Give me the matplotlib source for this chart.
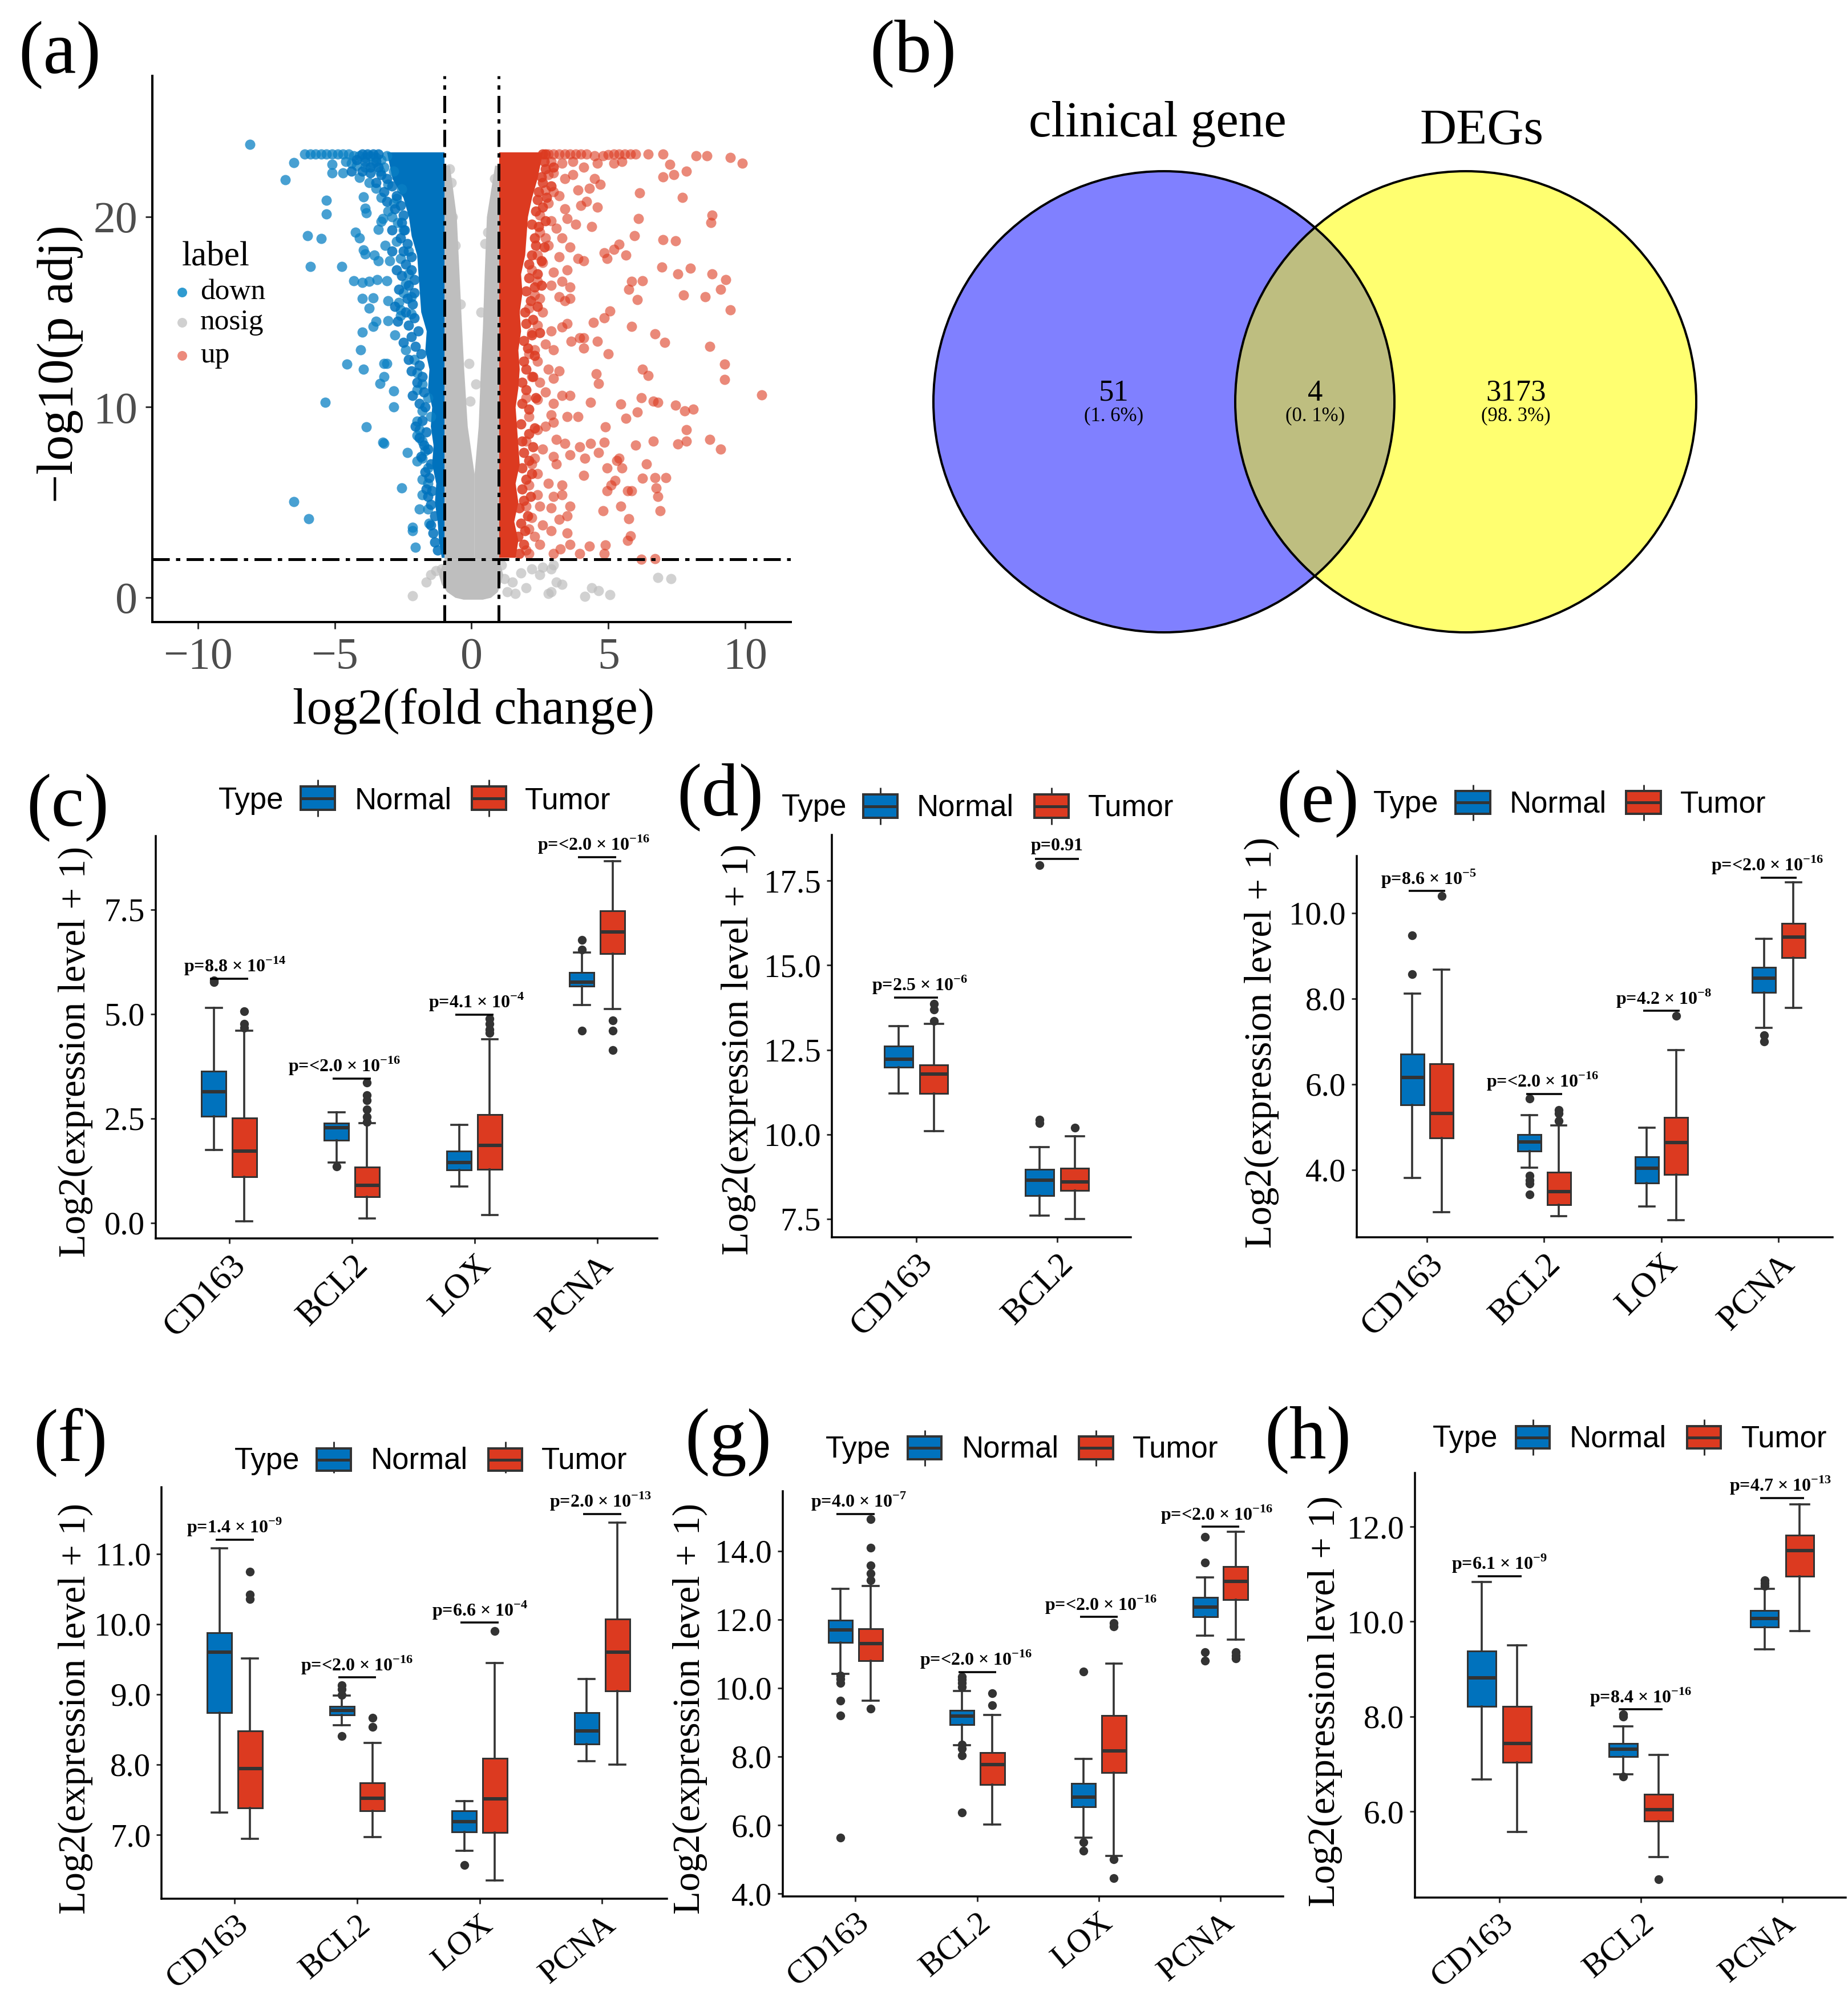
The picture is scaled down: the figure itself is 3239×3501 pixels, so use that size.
import matplotlib
matplotlib.use("Agg")
import matplotlib.pyplot as plt
from matplotlib.patches import Circle, Rectangle

W, H = 3239, 3501
PT = 0.72  # points per output pixel at dpi 100

plt.rcParams["font.family"] = ["Liberation Serif", "DejaVu Serif"]
plt.rcParams["mathtext.fontset"] = "custom"
plt.rcParams["mathtext.rm"] = "Liberation Serif"
plt.rcParams["mathtext.bf"] = "Liberation Serif:bold"

BLUE = "#0072BD"
RED = "#DC3A20"
GREY = "#BEBEBE"
DARK = "#333333"

# ---- panel a: volcano, core = solid band
down_points = [
    (-8.1, 23.8), (-6.5, 22.85), (-6.8, 21.95), (-5.3, 20.85), (-5.3, 20.15), (-6.0, 19.0), (-5.5, 18.85),
    (-5.9, 17.4), (-4.75, 17.4), (-4.25, 19.2), (-4.1, 18.9), (-3.9, 18.05), (-3.95, 18.25), (-3.55, 18.0),
    (-3.4, 17.7), (-3.0, 17.7), (-3.15, 18.5), (-2.75, 18.7), (-3.4, 19.35), (-3.3, 19.75), (-3.95, 21.05),
    (-3.9, 20.45), (-3.85, 20.2), (-3.05, 20.3), (-3.25, 19.9), (-2.85, 20.7), (-5.1, 22.75), (-5.1, 22.3),
    (-4.7, 22.3), (-4.4, 22.8), (-4.1, 22.05), (-3.75, 21.8), (-3.35, 22.4), (-3.05, 21.7), (-2.85, 22.4),
    (-2.55, 21.45), (-2.75, 20.95), (-4.3, 16.65), (-4.0, 16.55), (-3.75, 16.6), (-3.45, 16.7), (-3.1, 16.65),
    (-4.0, 15.7), (-3.6, 15.75), (-3.05, 15.6), (-2.65, 15.5), (-3.75, 15.2), (-2.4, 16.5), (-2.5, 16.0),
    (-2.6, 15.1), (-2.3, 17.0), (-4.0, 13.95), (-3.6, 14.25), (-3.5, 14.5), (-3.05, 14.55), (-2.8, 13.8),
    (-2.6, 14.8), (-2.2, 14.9), (-4.05, 13.0), (-4.55, 12.25), (-3.95, 12.0), (-3.2, 12.3), (-3.1, 12.3),
    (-3.2, 11.6), (-3.35, 11.25), (-2.85, 10.85), (-5.35, 10.25), (-2.85, 10.0), (-3.85, 8.95), (-3.25, 8.15),
    (-3.2, 8.1), (-2.35, 7.6), (-2.0, 7.15), (-2.55, 5.75), (-6.5, 5.05), (-5.95, 4.15), (-2.15, 3.7),
    (-2.15, 3.5), (-2.05, 2.65), (-1.8, 5.4), (-1.9, 4.65), (-1.6, 4.65), (-1.55, 3.9), (-2.0, 9.25),
    (-1.9, 8.8), (-2.0, 8.5), (-1.8, 8.2), (-1.7, 7.7), (-1.8, 7.3), (-1.6, 6.8), (-1.8, 6.2), (-1.6, 6.0),
    (-2.4, 13.0), (-2.1, 12.5), (-2.0, 11.8), (-1.8, 11.2), (-2.0, 10.9), (-1.6, 10.5), (-1.8, 9.8), (-1.5, 9.5),
    (-2.3, 18.2), (-2.5, 19.3), (-2.7, 19.7), (-2.9, 20.0), (-3.3, 21.0), (-3.5, 21.5), (-2.6, 17.8), (-2.2, 15.8),
    (-6.1, 23.3), (-5.9, 23.3), (-5.7, 23.3), (-5.5, 23.3), (-5.3, 23.3), (-5.1, 23.3), (-4.9, 23.3), (-4.7, 23.3),
    (-4.5, 23.3), (-4.3, 23.2), (-4.1, 23.2), (-3.9, 23.1), (-3.7, 23.2), (-3.5, 23.1), (-3.3, 23.0), (-3.1, 23.2),
    (-4.6, 22.9), (-4.2, 22.7), (-3.9, 22.6), (-3.6, 22.8), (-3.2, 22.6),
]
down_edge_points = [
    (-1.25, 2.5), (-1.35, 2.9), (-1.4, 3.4), (-1.5, 3.8), (-1.35, 4.3), (-1.5, 4.9), (-1.6, 5.3), (-1.45, 5.6),
    (-1.65, 5.7), (-1.55, 6.3), (-1.7, 6.6), (-1.5, 7.0), (-1.85, 7.4), (-1.6, 7.8), (-1.75, 8.0), (-1.9, 8.4),
    (-1.65, 8.7), (-2.05, 9.0), (-1.8, 9.3), (-1.7, 10.0), (-1.9, 10.2), (-2.15, 10.6), (-1.75, 10.8), (-2.0, 11.3),
    (-1.8, 11.6), (-2.2, 11.9), (-1.9, 12.2), (-2.3, 12.5), (-1.85, 12.8), (-2.05, 13.2), (-2.5, 13.4), (-2.2, 13.7),
    (-1.95, 14.0), (-2.3, 14.3), (-2.7, 14.5), (-2.1, 14.7), (-2.4, 15.0), (-2.15, 15.4), (-2.8, 15.3), (-2.35, 15.7),
    (-2.1, 16.0), (-2.65, 16.2), (-2.3, 16.4), (-2.1, 16.7), (-2.55, 16.9), (-2.2, 17.2), (-2.75, 17.2), (-2.4, 17.5),
    (-2.2, 17.9), (-2.5, 18.2), (-2.9, 18.2), (-2.35, 18.6), (-2.6, 18.9), (-2.45, 19.3), (-2.9, 19.3), (-2.55, 19.7),
    (-2.5, 20.1), (-2.8, 20.4), (-2.6, 20.6), (-3.1, 20.8), (-2.75, 21.1), (-3.2, 21.3), (-2.9, 21.6), (-3.5, 21.8),
    (-3.1, 22.0), (-3.3, 22.2), (-3.7, 22.3), (-3.4, 22.6), (-4.0, 22.4), (-3.7, 22.6), (-3.5, 22.9), (-3.9, 22.9),
    (-4.2, 23.0), (-3.4, 23.3), (-3.6, 23.3), (-3.8, 23.3), (-4.0, 23.3), (-4.4, 22.4),
]
up_points = [
    (6.45, 23.3), (7.0, 23.3), (8.2, 23.2), (8.6, 23.2), (9.45, 23.1), (9.9, 22.8), (7.25, 22.75), (7.85, 22.4),
    (7.4, 22.2), (7.0, 22.1), (6.15, 21.25), (7.7, 21.0), (8.8, 20.1), (8.75, 19.7), (6.1, 19.9), (5.95, 19.0),
    (7.0, 18.8), (7.45, 18.75), (5.4, 18.55), (5.2, 18.3), (4.85, 18.1), (5.65, 18.0), (4.95, 17.8), (6.95, 17.35),
    (8.0, 17.3), (7.55, 17.0), (8.8, 17.0), (9.3, 16.7), (9.1, 16.2), (6.25, 16.65), (5.85, 16.6), (5.75, 16.2),
    (7.75, 15.9), (8.55, 15.8), (6.05, 15.65), (9.45, 15.1), (5.05, 15.05), (4.85, 14.7), (4.45, 14.45), (5.85, 14.25),
    (6.7, 13.85), (7.05, 13.4), (8.7, 13.2), (5.0, 12.8), (4.6, 13.45), (4.1, 13.65), (3.95, 13.65), (4.1, 13.1),
    (3.65, 13.45), (9.25, 12.25), (6.25, 12.0), (6.45, 11.65), (4.55, 11.75), (4.65, 11.25), (9.25, 11.45),
    (10.6, 10.65), (6.2, 10.5), (6.65, 10.3), (6.8, 10.25), (7.45, 10.1), (7.8, 9.8), (8.1, 9.9), (5.45, 10.15),
    (4.35, 10.25), (5.65, 9.4), (6.05, 9.75), (4.9, 8.95), (3.9, 9.5), (7.85, 8.8), (8.7, 8.3), (9.1, 7.8),
    (7.85, 8.2), (7.55, 8.05), (6.65, 8.2), (6.0, 8.0), (4.85, 8.15), (4.35, 8.1), (3.95, 7.9), (4.65, 7.6),
    (5.4, 7.3), (5.3, 7.2), (6.4, 7.0), (6.25, 6.25), (6.7, 6.3), (7.1, 6.3), (4.95, 6.8), (5.5, 6.8), (4.15, 7.3),
    (4.1, 6.4), (5.25, 6.15), (5.1, 5.9), (4.95, 5.6), (5.7, 5.6), (5.85, 5.6), (6.75, 5.75), (6.8, 5.3), (6.9, 4.55),
    (5.45, 4.8), (4.8, 4.55), (5.75, 4.15), (3.5, 3.4), (5.8, 3.25), (5.7, 3.0), (4.9, 2.75), (4.85, 2.3), (4.3, 2.7),
    (3.6, 2.8), (6.2, 2.0), (6.7, 2.05), (3.95, 2.3), (3.25, 2.55), (3.0, 2.3),
    (2.8, 23.3), (3.0, 23.3), (3.2, 23.3), (3.4, 23.3), (3.6, 23.3), (3.8, 23.3), (4.0, 23.3), (4.2, 23.3),
    (4.5, 23.2), (4.8, 23.2), (5.0, 23.25), (5.2, 23.3), (5.4, 23.3), (5.6, 23.3), (5.8, 23.3), (6.0, 23.3),
    (2.9, 22.9), (3.3, 22.8), (3.7, 22.9), (4.6, 22.8), (5.2, 22.8), (5.5, 22.9), (3.0, 22.3), (3.4, 22.0), (3.7, 22.2),
    (4.1, 22.6), (4.5, 22.0), (4.7, 21.7), (3.0, 21.3), (3.2, 21.1), (3.9, 21.4), (4.3, 21.5), (2.8, 20.7), (3.4, 20.4),
    (4.0, 20.6), (4.2, 20.8), (4.6, 20.5), (2.9, 19.8), (3.5, 19.9), (3.1, 19.4), (3.8, 19.6), (4.4, 19.5), (2.7, 18.9),
    (2.5, 19.2), (3.3, 18.9), (2.8, 18.5), (3.6, 18.4), (4.1, 17.7), (3.9, 17.8), (3.2, 17.9), (3.5, 17.2), (2.6, 17.6),
    (3.0, 17.1), (2.4, 16.6), (2.9, 16.4), (3.3, 16.6), (3.6, 16.3), (2.5, 15.7), (3.2, 15.8), (3.4, 15.6), (3.6, 15.7),
    (2.6, 15.0), (3.5, 14.4), (3.3, 14.2), (2.9, 14.0), (2.4, 14.3), (3.0, 13.0), (2.7, 13.3), (2.3, 13.0), (2.4, 12.4),
    (2.8, 12.0), (3.2, 11.9), (3.0, 11.5), (2.5, 11.3), (2.7, 10.8), (3.3, 10.6), (3.6, 10.6), (2.4, 10.4), (3.0, 10.2),
    (2.9, 9.6), (3.0, 9.2), (3.5, 9.5), (2.7, 9.0), (2.4, 8.8), (3.1, 8.3), (3.4, 8.1), (2.6, 7.8), (3.6, 7.5), (2.3, 7.3),
    (3.0, 7.4), (3.1, 7.0), (2.4, 6.5), (2.8, 6.0), (3.3, 5.9), (2.4, 5.4), (3.0, 5.3), (3.3, 5.4), (2.5, 4.8), (2.9, 4.7),
    (3.6, 4.8), (2.2, 4.2), (3.2, 4.1), (3.5, 4.3), (2.6, 3.8), (2.9, 3.5), (2.3, 3.2), (2.5, 2.8), (2.1, 2.3), (2.0, 2.5),
    (2.1, 3.6), (2.0, 4.8), (2.1, 5.9), (2.2, 7.0), (2.0, 8.2), (2.1, 9.5), (2.0, 10.5), (2.2, 11.6), (2.1, 12.8), (2.2, 13.9),
    (2.1, 15.2), (2.3, 15.9), (2.2, 17.2), (2.4, 18.0), (2.5, 20.1), (2.7, 21.4), (2.8, 22.2),
]
up_edge_points = [
    (1.75, 2.3), (1.9, 2.8), (1.7, 3.2), (1.95, 3.5), (1.8, 3.9), (2.05, 4.3), (1.75, 4.7), (1.9, 5.1), (2.15, 5.3),
    (1.85, 5.7), (2.0, 6.2), (2.2, 6.5), (1.85, 6.8), (2.1, 7.2), (1.9, 7.6), (2.25, 7.9), (1.85, 8.2), (2.1, 8.6),
    (2.3, 8.9), (1.8, 9.1), (2.1, 9.9), (1.85, 10.2), (2.35, 10.5), (2.0, 10.9), (1.85, 11.3), (2.25, 11.6), (2.0, 12.0),
    (1.9, 12.4), (2.3, 12.7), (2.05, 13.1), (1.9, 13.5), (2.2, 13.8), (2.5, 13.9), (2.0, 14.4), (2.25, 14.6), (1.95, 15.0),
    (2.4, 15.3), (2.15, 15.6), (2.0, 16.1), (2.3, 16.3), (2.55, 16.4), (2.1, 16.8), (2.4, 17.0), (2.1, 17.5), (2.55, 17.7),
    (2.2, 18.0), (2.35, 18.5), (2.65, 18.4), (2.3, 18.9), (2.45, 19.5), (2.2, 19.6), (2.7, 19.8), (2.35, 20.3), (2.6, 20.5),
    (2.4, 20.9), (2.75, 21.0), (2.45, 21.3), (2.6, 21.8), (2.9, 21.6), (2.55, 22.1), (2.7, 22.5), (3.0, 22.6), (2.65, 22.9),
    (2.6, 23.3), (2.7, 23.3),
]
nosig_points = [
    (-2.15, 0.1), (-1.65, 0.8), (-1.5, 1.2), (-1.3, 1.4), (-1.1, 1.5), (1.2, 1.0), (1.5, 0.8), (1.8, 1.3), (2.0, 0.5),
    (2.2, 1.5), (2.5, 1.2), (2.6, 1.6), (2.9, 1.5), (3.0, 1.7), (3.1, 0.8), (2.9, 0.3), (3.3, 0.7), (2.8, 0.2), (4.15, 0.05),
    (4.4, 0.5), (4.65, 0.35), (5.05, 0.15), (6.8, 1.05), (7.3, 1.0), (1.3, 0.3), (1.6, 0.2), (1.1, 1.7), (-0.1, 12.3),
    (-0.8, 22.5), (-0.75, 21.8), (0.85, 22.0), (0.9, 21.4), (-0.4, 15.4), (0.35, 15.0), (-0.05, 10.3), (0.15, 11.2),
    (-0.6, 18.5), (0.5, 18.6), (-0.7, 20.0), (0.6, 19.2),
]
core_y = [2.1, 3, 4, 5, 6, 7, 8, 9, 10, 11, 12, 13, 14, 15, 16, 17, 18, 19, 20, 21, 22, 23.4]
down_core_x = [-1.1, -1.2, -1.25, -1.35, -1.3, -1.45, -1.4, -1.5, -1.45, -1.6, -1.55, -1.7, -1.65, -1.85, -1.9,
               -1.95, -2.0, -2.2, -2.3, -2.5, -2.9, -3.1]
up_core_x = [1.6, 1.7, 1.55, 1.7, 1.6, 1.75, 1.7, 1.65, 1.6, 1.7, 1.75, 1.7, 1.8, 1.75, 1.85, 1.8, 1.95, 2.0, 2.05,
             2.2, 2.4, 2.6]
nosig_y = [2, 6.5, 9, 12, 14, 17, 20, 22.7]
nosig_left_x = [0.1, 0.1, -0.15, -0.28, -0.35, -0.45, -0.55, -0.8]
nosig_right_x = [0.1, 0.1, 0.25, 0.33, 0.4, 0.47, 0.55, 0.85]
blob_y = [-0.1, 0, 0.3, 0.7, 1.2, 2]
blob_left_x = [-0.3, -0.6, -0.9, -1.1, -1.2, -1]
blob_right_x = [0.4, 0.7, 0.95, 1.05, 1.15, 1]
volcano_xticks = [-10, -5, 0, 5, 10]
volcano_yticks = [0, 10, 20]
fold_cutoffs = [-1, 1]
p_cutoff = 2

# ---- panel b
venn_counts = ["51", "4", "3173"]
venn_shares = ["(1. 6%)", "(0. 1%)", "(98. 3%)"]
venn_names = ["clinical gene", "DEGs"]

# ---- box panels: (whisker low, q1, median, q3, whisker high) per gene
c_genes = ["CD163", "BCL2", "LOX", "PCNA"]
c_yticks = [0.0, 2.5, 5.0, 7.5]
c_normal = [(1.75, 2.55, 3.14, 3.63, 5.15), (1.44, 1.98, 2.28, 2.39, 2.65), (0.87, 1.26, 1.44, 1.71, 2.34), (5.22, 5.67, 5.76, 6.0, 6.47)]
c_tumor = [(0.04, 1.1, 1.72, 2.51, 4.6), (0.1, 0.62, 0.9, 1.33, 2.39), (0.19, 1.28, 1.85, 2.59, 4.39), (5.12, 6.45, 6.97, 7.47, 8.66)]
c_normal_out = [[5.76, 5.8], [1.35], [], [4.6, 6.54, 6.77]]
c_tumor_out = [[5.07, 4.76, 4.67], [2.41, 2.54, 2.72, 2.93, 3.06, 3.36], [4.54, 4.63, 4.76, 4.89], [4.84, 4.6, 4.13]]
c_bracket = [5.85, 3.45, 4.98, 8.76]
c_pvals = ["p=8.8 × 10$^{\\mathbf{-14}}$", "p=<2.0 × 10$^{\\mathbf{-16}}$", "p=4.1 × 10$^{\\mathbf{-4}}$", "p=<2.0 × 10$^{\\mathbf{-16}}$"]

d_genes = ["CD163", "BCL2"]
d_yticks = [7.5, 10.0, 12.5, 15.0, 17.5]
d_normal = [(11.21, 11.98, 12.23, 12.61, 13.2), (7.6, 8.19, 8.65, 8.96, 9.63)]
d_tumor = [(10.1, 11.21, 11.79, 12.05, 13.27), (7.5, 8.34, 8.6, 9.0, 9.94)]
d_normal_out = [[], [10.33, 10.44, 17.96]]
d_tumor_out = [[13.36, 13.69, 13.85], [10.2]]
d_bracket = [14.04, 18.15]
d_pvals = ["p=2.5 × 10$^{\\mathbf{-6}}$", "p=0.91"]

e_genes = ["CD163", "BCL2", "LOX", "PCNA"]
e_yticks = [4.0, 6.0, 8.0, 10.0]
e_normal = [(3.81, 5.51, 6.15, 6.7, 8.12), (4.05, 4.44, 4.65, 4.82, 5.27), (3.14, 3.69, 4.03, 4.3, 4.98), (7.31, 8.14, 8.48, 8.73, 9.4)]
e_tumor = [(3.01, 4.74, 5.32, 6.48, 8.67), (2.91, 3.18, 3.49, 3.94, 5.03), (2.82, 3.89, 4.63, 5.22, 6.79), (7.78, 8.95, 9.44, 9.75, 10.71)]
e_normal_out = [[8.57, 9.47], [3.42, 3.68, 3.75, 3.86, 5.66], [], [7.0, 7.14]]
e_tumor_out = [[10.4], [5.14, 5.32, 5.39], [7.59], []]
e_bracket = [10.51, 5.77, 7.71, 10.82]
e_pvals = ["p=8.6 × 10$^{\\mathbf{-5}}$", "p=<2.0 × 10$^{\\mathbf{-16}}$", "p=4.2 × 10$^{\\mathbf{-8}}$", "p=<2.0 × 10$^{\\mathbf{-16}}$"]

f_genes = ["CD163", "BCL2", "LOX", "PCNA"]
f_yticks = [7.0, 8.0, 9.0, 10.0, 11.0]
f_normal = [(7.32, 8.74, 9.6, 9.88, 11.08), (8.56, 8.71, 8.77, 8.83, 8.98), (6.77, 7.04, 7.19, 7.34, 7.48), (8.05, 8.29, 8.48, 8.74, 9.22)]
f_tumor = [(6.94, 7.38, 7.94, 8.48, 9.51), (6.97, 7.34, 7.52, 7.74, 8.31), (6.35, 7.03, 7.51, 8.09, 9.45), (8.0, 9.05, 9.6, 10.07, 11.45)]
f_normal_out = [[], [8.41, 8.99, 9.07, 9.13], [6.57], []]
f_tumor_out = [[10.36, 10.42, 10.75], [8.54, 8.67], [9.9], []]
f_bracket = [11.2, 9.24, 10.02, 11.57]
f_pvals = ["p=1.4 × 10$^{\\mathbf{-9}}$", "p=<2.0 × 10$^{\\mathbf{-16}}$", "p=6.6 × 10$^{\\mathbf{-4}}$", "p=2.0 × 10$^{\\mathbf{-13}}$"]

g_genes = ["CD163", "BCL2", "LOX", "PCNA"]
g_yticks = [4.0, 6.0, 8.0, 10.0, 12.0, 14.0]
g_normal = [(10.42, 11.32, 11.69, 11.97, 12.9), (8.34, 8.93, 9.18, 9.35, 9.92), (5.64, 6.54, 6.81, 7.21, 7.93), (11.52, 12.08, 12.36, 12.64, 13.22)]
g_tumor = [(9.63, 10.8, 11.3, 11.72, 12.97), (6.02, 7.19, 7.77, 8.12, 9.22), (5.1, 7.54, 8.17, 9.2, 10.71), (11.41, 12.58, 13.11, 13.55, 14.56)]
g_normal_out = [[5.64, 9.19, 9.63, 10.14, 10.27, 10.36], [6.37, 8.04, 8.24, 8.35, 10.03, 10.14, 10.25, 10.33], [5.25, 5.5, 10.48], [10.8, 11.05, 13.66, 14.41]]
g_tumor_out = [[9.39, 13.15, 13.34, 13.58, 14.1, 14.92], [9.49, 9.84], [4.45, 5.0, 11.79, 11.89], [10.86, 10.95, 11.04]]
g_bracket = [15.08, 10.46, 12.07, 14.7]
g_pvals = ["p=4.0 × 10$^{\\mathbf{-7}}$", "p=<2.0 × 10$^{\\mathbf{-16}}$", "p=<2.0 × 10$^{\\mathbf{-16}}$", "p=<2.0 × 10$^{\\mathbf{-16}}$"]

h_genes = ["CD163", "BCL2", "PCNA"]
h_yticks = [6.0, 8.0, 10.0, 12.0]
h_normal = [(6.68, 8.21, 8.82, 9.38, 10.83), (6.79, 7.16, 7.31, 7.43, 7.8), (9.42, 9.88, 10.06, 10.23, 10.69)]
h_tumor = [(5.57, 7.04, 7.43, 8.21, 9.5), (5.04, 5.8, 6.04, 6.37, 7.19), (9.8, 10.96, 11.5, 11.82, 12.47)]
h_normal_out = [[], [6.74, 8.0, 8.05], [10.75, 10.81, 10.87]]
h_tumor_out = [[], [4.58], []]
h_bracket = [10.96, 8.15, 12.6]
h_pvals = ["p=6.1 × 10$^{\\mathbf{-9}}$", "p=8.4 × 10$^{\\mathbf{-16}}$", "p=4.7 × 10$^{\\mathbf{-13}}$"]


def pixel_axes(fig, left, top, right, bottom):
    """Axes from output pixel edges."""
    return fig.add_axes([left / W, 1 - bottom / H, (right - left) / W, (bottom - top) / H])


def to_stats(rows, outliers):
    return [
        dict(whislo=r[0], q1=r[1], med=r[2], q3=r[3], whishi=r[4], fliers=o)
        for r, o in zip(rows, outliers)
    ]


def box_panel(fig, rect, ylim, xmax, genes, yticks, normal, tumor, normal_out, tumor_out, bracket, pvals, nudge,
              tick_angle=45, tick_size=44):
    ax = pixel_axes(fig, *rect)
    slots = list(range(1, len(genes) + 1))
    for rows, out, shift, color in [(normal, normal_out, -0.125, BLUE), (tumor, tumor_out, 0.125, RED)]:
        ax.bxp(
            to_stats(rows, out),
            positions=[s + shift for s in slots],
            widths=0.2,
            capwidths=0.13,
            patch_artist=True,
            manage_ticks=False,
            boxprops=dict(facecolor=color, edgecolor=DARK, linewidth=3 * PT),
            medianprops=dict(color=DARK, linewidth=6 * PT, solid_capstyle="butt"),
            whiskerprops=dict(color=DARK, linewidth=3.6 * PT),
            capprops=dict(color=DARK, linewidth=3.6 * PT),
            flierprops=dict(marker="o", markerfacecolor=DARK, markeredgecolor=DARK, markersize=14 * PT),
        )
    for s, y, label, dx in zip(slots, bracket, pvals, nudge):
        ax.plot([s - 0.155, s + 0.155], [y, y], color="black", lw=3.5 * PT, solid_capstyle="butt")
        ax.annotate(label, xy=(s, y), xytext=(dx * PT, 22 * PT), textcoords="offset points", ha="center", va="center",
                    fontsize=23, fontweight="bold", color="black")
    ax.set_xlim(0.402, xmax)
    ax.set_ylim(*ylim)
    ax.set_xticks(slots)
    ax.set_xticklabels(genes, rotation=tick_angle, ha="right", va="top", rotation_mode="anchor", fontsize=tick_size)
    ax.set_yticks(yticks)
    ax.set_yticklabels([f"{t:.1f}" for t in yticks], fontsize=41)
    ax.tick_params(axis="both", length=9 * PT, width=3 * PT, color=DARK, pad=10 * PT)
    for side in ["top", "right"]:
        ax.spines[side].set_visible(False)
    for side in ["left", "bottom"]:
        ax.spines[side].set_linewidth(3.5 * PT)
    return ax


def type_legend(ov, mid, key_top, key_bot, wh_top, wh_bot, type_x, key1, normal_x, key2, tumor_x):
    ov.text(type_x, mid + 3, "Type", family="Liberation Sans", fontsize=38, ha="left", va="center")
    ov.text(normal_x, mid + 3, "Normal", family="Liberation Sans", fontsize=38, ha="left", va="center")
    ov.text(tumor_x, mid + 3, "Tumor", family="Liberation Sans", fontsize=38, ha="left", va="center")
    for (x0, x1), color in [(key1, BLUE), (key2, RED)]:
        xc = (x0 + x1) / 2
        ov.plot([xc, xc], [wh_top, wh_bot], color=DARK, lw=3 * PT, solid_capstyle="butt", zorder=2)
        ov.add_patch(Rectangle((x0, key_top), x1 - x0, key_bot - key_top, fc=color, ec=DARK, lw=4 * PT, zorder=3))
        ov.plot([x0, x1], [(key_top + key_bot) / 2] * 2, color=DARK, lw=5 * PT, solid_capstyle="butt", zorder=4)


fig = plt.figure(figsize=(W / 100, H / 100), dpi=100)

# panel a
ax = pixel_axes(fig, 267, 133, 1386, 1090)
ax.fill_betweenx(nosig_y, [-1] * len(nosig_y), nosig_left_x, color=GREY, lw=0, zorder=1)
ax.fill_betweenx(nosig_y, nosig_right_x, [1] * len(nosig_y), color=GREY, lw=0, zorder=1)
ax.fill_betweenx(blob_y, blob_left_x, blob_right_x, color=GREY, lw=0, zorder=1)
ax.scatter(*zip(*nosig_points), s=168, color=GREY, alpha=0.7, lw=0, zorder=1)
ax.fill_betweenx(core_y, down_core_x, [-1] * len(core_y), color=BLUE, lw=0, zorder=2)
ax.fill_betweenx(core_y, [1] * len(core_y), up_core_x, color=RED, lw=0, zorder=2)
ax.scatter(*zip(*down_points), s=168, color="#0A80C4", alpha=0.75, lw=0, zorder=3)
ax.scatter(*zip(*down_edge_points), s=168, color=BLUE, alpha=0.85, lw=0, zorder=3)
ax.scatter(*zip(*up_points), s=168, color=RED, alpha=0.6, lw=0, zorder=3)
ax.scatter(*zip(*up_edge_points), s=168, color=RED, alpha=0.85, lw=0, zorder=3)
for x in fold_cutoffs:
    ax.axvline(x, color="black", lw=5 * PT, ls=(0, (6, 2.2, 1.5, 2.2)), zorder=4)
ax.axhline(p_cutoff, color="black", lw=5 * PT, ls=(0, (6, 2.2, 1.5, 2.2)), zorder=4)
ax.set_xlim(-11.67, 11.67)
ax.set_ylim(-1.29, 27.4)
ax.set_xticks(volcano_xticks)
ax.set_xticklabels([str(t).replace("-", "\u2212") for t in volcano_xticks], fontsize=56, color="#4d4d4d")
ax.set_yticks(volcano_yticks)
ax.set_yticklabels([str(t) for t in volcano_yticks], fontsize=56, color="#4d4d4d")
ax.tick_params(axis="both", length=12 * PT, width=3 * PT, color=DARK, pad=14 * PT)
for side in ["top", "right"]:
    ax.spines[side].set_visible(False)
for side in ["left", "bottom"]:
    ax.spines[side].set_linewidth(4 * PT)

# panels c to h, the bottom row sits close to the page edge so its gene names run flatter
box_panel(fig, (273, 1465, 1152, 2170), (-0.374, 9.26), 4.49, c_genes, c_yticks, c_normal, c_tumor, c_normal_out, c_tumor_out, c_bracket, c_pvals, [10, -13, 3, -6])
box_panel(fig, (1458, 1463, 1982, 2168), (6.96, 18.85), 2.523, d_genes, d_yticks, d_normal, d_tumor, d_normal_out, d_tumor_out, d_bracket, d_pvals, [6, 0])
box_panel(fig, (2378, 1500, 3212, 2168), (2.42, 11.33), 4.46, e_genes, e_yticks, e_normal, e_tumor, e_normal_out, e_tumor_out, e_bracket, e_pvals, [3, -3, 4, -20])
box_panel(fig, (283, 2606, 1169, 3327), (6.09, 11.95), 4.53, f_genes, f_yticks, f_normal, f_tumor, f_normal_out, f_tumor_out, f_bracket, f_pvals, [0, 0, 0, -3], 40, 42)
box_panel(fig, (1372, 2613, 2249, 3323), (3.92, 15.74), 4.516, g_genes, g_yticks, g_normal, g_tumor, g_normal_out, g_tumor_out, g_bracket, g_pvals, [6, -2, 4, -6], 40, 42)
box_panel(fig, (2480, 2581, 3235, 3325), (4.19, 13.13), 3.45, h_genes, h_yticks, h_normal, h_tumor, h_normal_out, h_tumor_out, h_bracket, h_pvals, [0, 0, -3], 40, 42)

# overlay in output pixels for letters, legends, axis titles and the venn
ov = fig.add_axes([0, 0, 1, 1], zorder=10)
ov.set_xlim(0, W)
ov.set_ylim(H, 0)
ov.axis("off")
ov.patch.set_alpha(0)

for label, x, y in [("(a)", 105, 96), ("(b)", 1600, 94), ("(c)", 119, 1415), ("(d)", 1262, 1397),
                    ("(e)", 2310, 1408), ("(f)", 123, 2527), ("(g)", 1276, 2527), ("(h)", 2292, 2523)]:
    ov.text(x, y, label, fontsize=94, ha="center", va="center")

ov.text(106, 638, "\u2212log10(p adj)", fontsize=64, rotation=90, ha="center", va="center")
ov.text(830, 1246, "log2(fold change)", fontsize=64, ha="center", va="center")
ov.text(319, 450, "label", fontsize=44, ha="left", va="center")
for name, y, color in [("down", 512, "#2F9BD0"), ("nosig", 565, "#D0D0D0"), ("up", 623, "#EC8A7C")]:
    ov.plot([319], [y], "o", ms=17 * PT, color=color, mew=0)
    ov.text(351, y, name, fontsize=37, ha="left", va="center")

ylabel = "Log2(expression level + 1)"
for x, y in [(132, 1843), (1294, 1839), (2211, 1827), (132, 2994), (1209, 2994), (2322, 2981)]:
    ov.text(x, y, ylabel, fontsize=48, rotation=90, ha="center", va="center")

type_legend(ov, 1400, 1378, 1419, 1366, 1431, 383, (527, 587), 622, (827, 887), 920)
type_legend(ov, 1412, 1392, 1433, 1380, 1445, 1370, (1513, 1573), 1607, (1813, 1873), 1907)
type_legend(ov, 1406, 1386, 1426, 1375, 1438, 2407, (2551, 2612), 2646, (2850, 2911), 2945)
type_legend(ov, 2557, 2538, 2577, 2526, 2581, 411, (555, 615), 650, (856, 915), 949)
type_legend(ov, 2537, 2517, 2557, 2506, 2569, 1447, (1591, 1650), 1686, (1891, 1951), 1985)
type_legend(ov, 2518, 2499, 2538, 2487, 2550, 2511, (2657, 2716), 2751, (2957, 3016), 3052)

# panel b venn
left = Circle((2040, 704), 404, fc="#8080FF", ec="none")
right = Circle((2569, 704), 404, fc="#FFFF70", ec="none")
ov.add_patch(left)
ov.add_patch(right)
overlap = Circle((2569, 704), 404, fc="#BEBE80", ec="none")
ov.add_patch(overlap)
overlap.set_clip_path(left)
ov.add_patch(Circle((2040, 704), 404, fc="none", ec="black", lw=4 * PT))
ov.add_patch(Circle((2569, 704), 404, fc="none", ec="black", lw=4 * PT))
ov.text(2029, 218, venn_names[0], fontsize=64, ha="center", va="center")
ov.text(2597, 230, venn_names[1], fontsize=64, ha="center", va="center")
for x, n, share in zip([1952, 2305, 2657], venn_counts, venn_shares):
    ov.text(x, 689, n, fontsize=38, ha="center", va="center")
    ov.text(x, 729, share, fontsize=25, ha="center", va="center")

fig.savefig("out.png", dpi=100, facecolor="white")
plt.close(fig)
